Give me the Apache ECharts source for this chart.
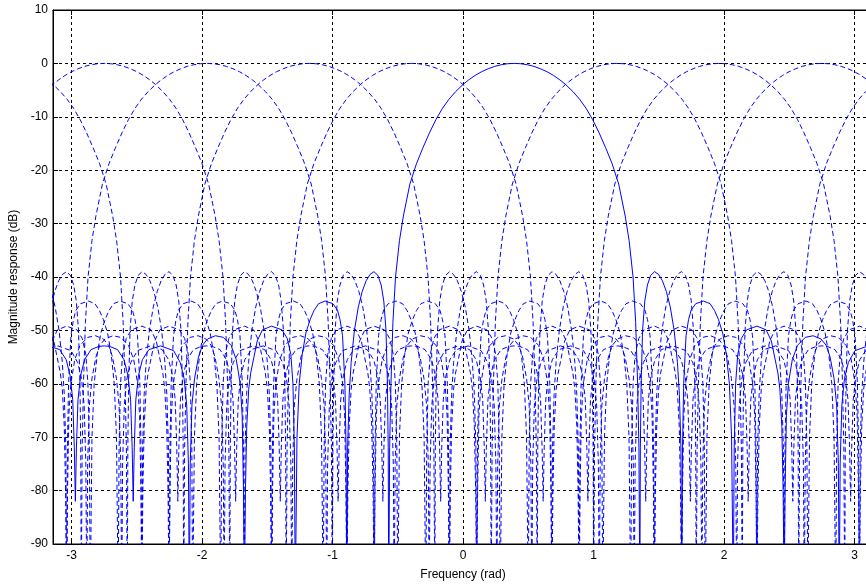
<!DOCTYPE html>
<html>
<head>
<meta charset="utf-8">
<script src="https://cdn.jsdelivr.net/npm/echarts/dist/echarts.min.js"></script>
<style>
html,body{margin:0;padding:0;background:#fff;}
#chart{width:866px;height:585px;}
</style>
</head>
<body>
<div id="chart"></div>
<script>
// Centre frequencies (rad) of the 8 filter-bank channels, read from the peaks
const centers = [-2.749, -1.963, -1.178, -0.393, 0.393, 1.178, 1.963, 2.749];
// index of the channel drawn with a solid line
const solidIndex = 4;

// Magnitude response of one channel, read off the picture as offset from its
// centre frequency (rad, d >= 0) and level (dB); the response is symmetric in d.
const shapeOffset = [
  0.000, 0.050, 0.100, 0.150, 0.200, 0.250, 0.300, 0.350, 0.393, 0.450,
  0.500, 0.550, 0.600, 0.650, 0.700, 0.750, 0.800, 0.850, 0.880, 0.910,
  0.930, 0.945, 0.955, 0.962,
  0.966, 0.972, 0.983, 1.000, 1.020, 1.045, 1.075, 1.105, 1.135, 1.165,
  1.195, 1.225, 1.250, 1.265, 1.277, 1.283,
  1.289, 1.298, 1.316, 1.335, 1.355, 1.390, 1.450, 1.500, 1.535, 1.565,
  1.597, 1.625, 1.648, 1.665, 1.678,
  1.685, 1.696, 1.712, 1.740, 1.780, 1.860, 1.930, 1.970, 1.995, 2.020,
  2.035, 2.050, 2.060, 2.068,
  2.075, 2.085, 2.100, 2.130, 2.170, 2.230, 2.290, 2.350, 2.390, 2.420,
  2.450, 2.470, 2.483, 2.490,
  2.497, 2.510, 2.530, 2.560, 2.610, 2.710, 2.800, 2.850, 2.880, 2.900,
  2.912, 2.920,
  2.928, 2.940, 2.960, 2.990, 3.040, 3.100, 3.1416
];
const shapeDb = [
  0, -0.06, -0.25, -0.56, -1.0, -1.55, -2.25, -3.1, -3.95, -5.3,
  -6.7, -8.4, -10.5, -13.0, -15.8, -18.8, -22.6, -28.6, -33.2, -40.0,
  -48.5, -60, -72, -100,
  -72, -60, -50, -44.5, -41.5, -39.7, -39.0, -39.5, -40.7, -42.7,
  -45.6, -50.0, -56, -62, -72, -100,
  -72, -60, -51, -48, -46.2, -45.0, -44.5, -45.0, -46.3, -48.0,
  -50.5, -54.5, -60, -70, -100,
  -72, -60, -54.5, -51.5, -49.9, -49.2, -49.9, -52.0, -55, -58,
  -61, -68, -80, -100,
  -80, -66, -60, -55.5, -52.8, -51.3, -51.0, -51.6, -52.8, -55,
  -59, -64, -75, -100,
  -75, -64, -59, -56, -53.8, -52.9, -53.6, -55.5, -58.5, -63,
  -72, -82,
  -72, -63, -58.5, -55.5, -53.6, -53.0, -52.9
];

const xTickLabels = ['-3', '-2', '-1', '0', '1', '2', '3'];

const FONT = '"Liberation Sans", Arial, Helvetica, sans-serif';
const PERIOD = 2 * Math.PI;

// full symmetric shape (offset, dB) over one period
const fullShape = [];
for (let i = shapeOffset.length - 1; i > 0; i--) fullShape.push([-shapeOffset[i], shapeDb[i]]);
for (let i = 0; i < shapeOffset.length; i++) fullShape.push([shapeOffset[i], shapeDb[i]]);

function channelData(c) {
  const pts = [];
  for (const k of [-1, 0, 1]) {
    for (const p of fullShape) {
      const x = c + k * PERIOD + p[0];
      if (x >= -3.7 && x <= 3.7) pts.push([x, p[1]]);
    }
  }
  return pts;
}

const series = centers.map((c, i) => ({
  type: 'line',
  data: channelData(c),
  showSymbol: false,
  symbol: 'none',
  silent: true,
  clip: true,
  z: i === solidIndex ? 3 : 2,
  lineStyle: {
    color: '#0000ff',
    width: 1,
    type: i === solidIndex ? 'solid' : [5, 3]
  }
}));

const chart = echarts.init(document.getElementById('chart'), null, {renderer: 'canvas'});
chart.setOption({
  animation: false,
  backgroundColor: '#ffffff',
  grid: {
    left: 53, top: 10, width: 820, height: 534,
    containLabel: false, outerBoundsMode: 'none',
    show: true, borderColor: '#000', borderWidth: 1, backgroundColor: 'transparent'
  },
  xAxis: [{
    type: 'value',
    min: -Math.PI, max: Math.PI, splitNumber: 6,
    name: 'Frequency (rad)', nameLocation: 'middle', nameGap: 25,
    nameTextStyle: {fontFamily: FONT, fontSize: 12, color: '#000'},
    axisLine: {show: true, onZero: false, lineStyle: {color: '#000', width: 1}},
    axisTick: {show: true, inside: true, length: 5, lineStyle: {color: '#000'}},
    axisLabel: {
      margin: 6, fontFamily: FONT, fontSize: 12, color: '#000',
      showMinLabel: false, showMaxLabel: false,
      formatter: v => xTickLabels[Math.round(v) + 3]
    },
    splitLine: {show: true, lineStyle: {color: '#000', width: 1, type: [3, 3]}}
  }, {
    type: 'value', position: 'top',
    min: -Math.PI, max: Math.PI, splitNumber: 6,
    axisLine: {show: true, onZero: false, lineStyle: {color: '#000', width: 1}},
    axisTick: {show: true, inside: true, length: 5, lineStyle: {color: '#000'}},
    axisLabel: {show: false},
    splitLine: {show: false}
  }],
  yAxis: {
    type: 'value', min: -90, max: 10, interval: 10,
    name: 'Magnitude response (dB)', nameLocation: 'middle', nameGap: 32, nameRotate: 90,
    nameTextStyle: {fontFamily: FONT, fontSize: 12, color: '#000'},
    axisLine: {show: true, onZero: false, lineStyle: {color: '#000', width: 1}},
    axisTick: {show: true, inside: true, length: 5, lineStyle: {color: '#000'}},
    axisLabel: {margin: 5, fontFamily: FONT, fontSize: 12, color: '#000'},
    splitLine: {show: true, lineStyle: {color: '#000', width: 1, type: [3, 3]}}
  },
  series: series
});
</script>
</body>
</html>
